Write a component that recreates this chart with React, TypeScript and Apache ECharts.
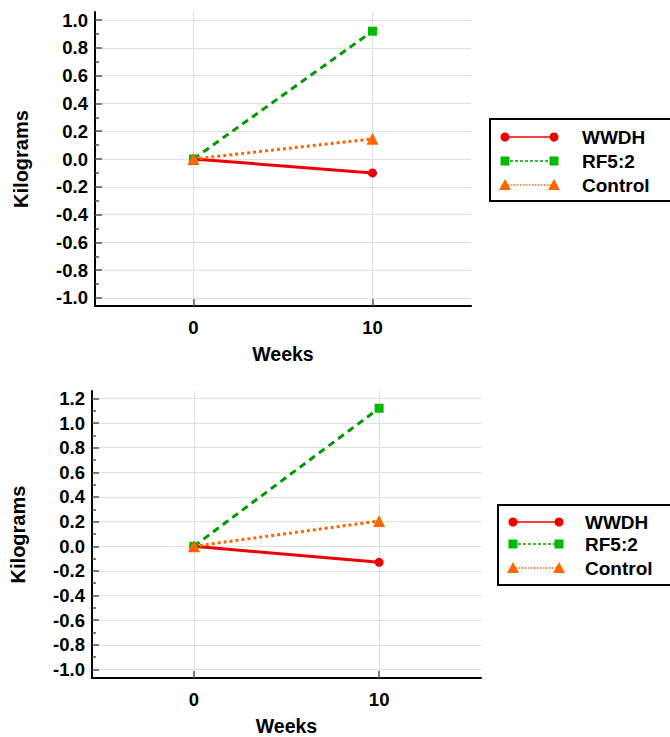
import React, { useEffect, useRef } from "react";
import * as echarts from "echarts";

const weeks = [0, 10];
const seriesNames = ["WWDH", "RF5:2", "Control"];
const topWWDH = [0, -0.10];
const topRF = [0, 0.92];
const topControl = [0, 0.145];
const bottomWWDH = [0, -0.13];
const bottomRF = [0, 1.12];
const bottomControl = [0, 0.205];
const topYTicks = [-1.0, -0.8, -0.6, -0.4, -0.2, 0, 0.2, 0.4, 0.6, 0.8, 1.0];
const topYMinor = [-0.9, -0.7, -0.5, -0.3, -0.1, 0.1, 0.3, 0.5, 0.7, 0.9];
const bottomYTicks = [-1.0, -0.8, -0.6, -0.4, -0.2, 0, 0.2, 0.4, 0.6, 0.8, 1.0, 1.2];
const bottomYMinor = [-0.9, -0.7, -0.5, -0.3, -0.1, 0.1, 0.3, 0.5, 0.7, 0.9, 1.1];
const xTicks = [0, 10];

const lineColors = ["#ee0000", "#009a00", "#ff6600"];
const markerColors = ["#ee0000", "#00bb00", "#ff6600"];
const symbols = ["circle", "rect", "triangle"];
const symbolSizes = [9, 9, 12];
const lineTypes: any[] = ["solid", [7, 5], [3, 3]];
const legendDash: any[] = [null, [3, 2], [1.5, 1.5]];

const FONT = "Liberation Sans, Arial, sans-serif";

function pairs(vals: number[]) {
  return weeks.map((w, i) => [w, vals[i]]);
}

export default function App() {
  const ref = useRef<HTMLDivElement>(null);
  useEffect(() => {
    if (!ref.current) return;
    const chart = echarts.init(ref.current, undefined, { renderer: "svg" });
    const grids = [
      { left: 95, top: 12, width: 376, height: 294 },
      { left: 91, top: 391, width: 390, height: 295 },
    ];
    const yRanges = [
      { min: -1.058, max: 1.058, ticks: topYTicks, minor: topYMinor },
      { min: -1.069, max: 1.26, ticks: bottomYTicks, minor: bottomYMinor },
    ];
    const xAxes: any[] = [];
    const yAxes: any[] = [];
    grids.forEach((g, gi) => {
      xAxes.push({
        type: "value",
        gridIndex: gi,
        min: -5.5,
        max: 15.5,
        name: "Weeks",
        nameLocation: "middle",
        nameGap: 38,
        nameTextStyle: { fontFamily: FONT, fontWeight: "bold", fontSize: 19.5, color: "#000" },
        axisLine: { show: true, onZero: false, lineStyle: { color: "#000", width: 2 } },
        axisTick: { show: true, inside: true, length: 7, customValues: xTicks, lineStyle: { color: "#555", width: 1.5 } },
        axisLabel: { show: true, customValues: xTicks, margin: 12, fontFamily: FONT, fontWeight: "bold", fontSize: 18.5, color: "#000" },
        splitLine: { show: true, lineStyle: { color: "#e0e0e0", width: 1 } },
      });
      const r = yRanges[gi];
      yAxes.push({
        type: "value",
        gridIndex: gi,
        min: r.min,
        max: r.max,
        position: "left",
        offset: 0,
        name: "Kilograms",
        nameLocation: "middle",
        nameGap: 64,
        nameRotate: 90,
        nameTextStyle: { fontFamily: FONT, fontWeight: "bold", fontSize: 20, color: "#000" },
        axisLine: { show: true, onZero: false, lineStyle: { color: "#000", width: 2 } },
        axisTick: { show: true, inside: true, length: 7, customValues: r.ticks, lineStyle: { color: "#555", width: 1.5 } },
        axisLabel: {
          show: true,
          customValues: r.ticks,
          margin: 7,
          fontFamily: FONT,
          fontWeight: "bold",
          fontSize: 18.5,
          color: "#000",
          formatter: (v: number) => v.toFixed(1),
        },
        splitLine: { show: true, lineStyle: { color: "#e0e0e0", width: 1 } },
      });
      yAxes.push({
        type: "value",
        gridIndex: gi,
        min: r.min,
        max: r.max,
        position: "left",
        offset: 0,
        axisLine: { show: false, onZero: false },
        axisTick: { show: true, inside: true, length: 4, customValues: r.minor, lineStyle: { color: "#555", width: 1.5 } },
        axisLabel: { show: false },
        splitLine: { show: false },
      });
    });

    const data = [
      [topWWDH, topRF, topControl],
      [bottomWWDH, bottomRF, bottomControl],
    ];
    const series: any[] = [];
    data.forEach((group, gi) => {
      group.forEach((vals, si) => {
        series.push({
          type: "line",
          name: seriesNames[si],
          xAxisIndex: gi,
          yAxisIndex: gi * 2,
          data: pairs(vals),
          symbol: symbols[si],
          symbolSize: symbolSizes[si],
          showSymbol: true,
          itemStyle: { color: markerColors[si] },
          lineStyle: { color: lineColors[si], width: 3, type: lineTypes[si] },
          z: 2 + si,
        });
      });
    });

    const legends = [
      { x: 490, y: 119, h: 82, rows: [137, 161, 185], lx0: 505, lx1: 554, tx: 582 },
      { x: 498, y: 505, h: 80, rows: [522, 544, 568], lx0: 513, lx1: 559, tx: 585 },
    ];
    const graphic: any[] = [];
    legends.forEach((L) => {
      graphic.push({
        type: "rect",
        shape: { x: L.x, y: L.y, width: 200, height: L.h },
        style: { fill: "#fff", stroke: "#000", lineWidth: 2 },
        z: 10,
      });
      seriesNames.forEach((nm, si) => {
        const yy = L.rows[si];
        graphic.push({
          type: "line",
          shape: { x1: L.lx0, y1: yy, x2: L.lx1, y2: yy },
          style: { stroke: lineColors[si], lineWidth: 1.3, lineDash: legendDash[si] },
          z: 11,
        });
        [L.lx0, L.lx1].forEach((mx) => {
          if (si === 0) {
            graphic.push({ type: "circle", shape: { cx: mx, cy: yy, r: 4.5 }, style: { fill: markerColors[si] }, z: 12 });
          } else if (si === 1) {
            graphic.push({ type: "rect", shape: { x: mx - 4.5, y: yy - 4.5, width: 9, height: 9 }, style: { fill: markerColors[si] }, z: 12 });
          } else {
            graphic.push({
              type: "polygon",
              shape: { points: [[mx, yy - 6], [mx - 6, yy + 5], [mx + 6, yy + 5]] },
              style: { fill: markerColors[si] },
              z: 12,
            });
          }
        });
        graphic.push({
          type: "text",
          x: L.tx,
          y: yy,
          style: { text: nm, fontFamily: FONT, fontWeight: "bold", fontSize: 19, fill: "#000", textVerticalAlign: "middle", verticalAlign: "middle" },
          z: 12,
        });
      });
    });

    chart.setOption({
      animation: false,
      backgroundColor: "#fff",
      grid: grids.map((g) => ({ ...g, containLabel: false })),
      xAxis: xAxes,
      yAxis: yAxes,
      series,
      graphic,
    });
    return () => chart.dispose();
  }, []);
  return <div ref={ref} style={{ position: "fixed", left: 0, top: 0, width: 670, height: 737 }} />;
}
